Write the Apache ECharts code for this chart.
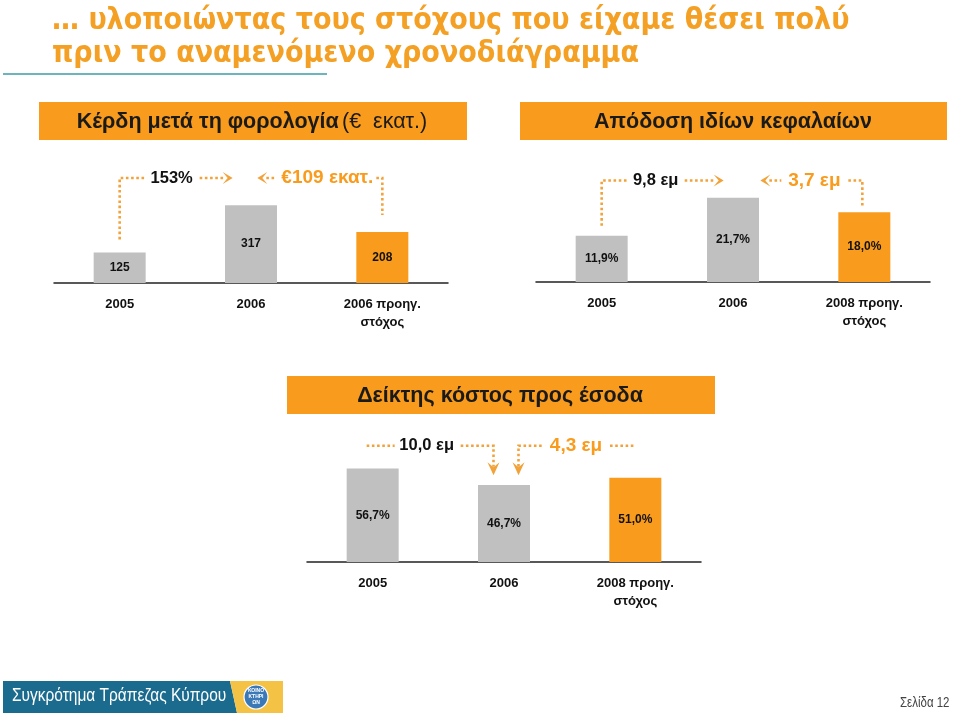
<!DOCTYPE html>
<html>
<head>
<meta charset="utf-8">
<script src="https://cdn.jsdelivr.net/npm/echarts@6/dist/echarts.min.js"></script>
<style>
html,body{margin:0;padding:0;background:#fff;}
#main{width:960px;height:715px;}
</style>
</head>
<body>
<div id="main"></div>
<script>
// ---- data ----
const titleLines = ['… υλοποιώντας τους στόχους που είχαμε θέσει πολύ', 'πριν το αναμενόμενο χρονοδιάγραμμα'];
const profitTitle = ['Κέρδη μετά τη φορολογία', '(€  εκατ.)'];
const profitCats = ['2005', '2006', '2006 προηγ.\nστόχος'];
const profitValues = [125, 317, 208];
const profitNotes = ['153%', '€109 εκατ.'];

const roeTitle = 'Απόδοση ιδίων κεφαλαίων';
const roeCats = ['2005', '2006', '2008 προηγ.\nστόχος'];
const roeValues = [11.9, 21.7, 18.0];
const roeNotes = ['9,8 εμ', '3,7 εμ'];

const costTitle = 'Δείκτης κόστος προς έσοδα';
const costCats = ['2005', '2006', '2008 προηγ.\nστόχος'];
const costValues = [56.7, 46.7, 51.0];
const costNotes = ['10,0 εμ', '4,3 εμ'];

const footerText = 'Συγκρότημα Τράπεζας Κύπρου';
const pageText = 'Σελίδα 12';

// ---- styles ----
const ORANGE = '#F99B1C';
const DOT = '#F2A23A';
const GREY = '#C0C0C0';
const FONT = "'Liberation Sans', Arial, sans-serif";

const pct = v => v.toFixed(1).replace('.', ',') + '%';

function barSeries(idx, values, fmt) {
  return {
    type: 'bar', xAxisIndex: idx, yAxisIndex: idx, barWidth: 52,
    data: values.map((v, i) => ({value: v, itemStyle: {color: i === values.length - 1 ? ORANGE : GREY}})),
    label: {show: true, position: 'inside', color: '#111', fontFamily: FONT, fontWeight: 'bold', fontSize: 12,
      formatter: p => fmt(p.value)},
    silent: true, animation: false
  };
}
function xAx(idx, cats) {
  return {
    type: 'category', gridIndex: idx, data: cats,
    axisLine: {lineStyle: {color: '#222', width: 1.5}}, axisTick: {show: false},
    axisLabel: {color: '#111', fontFamily: FONT, fontWeight: 'bold', fontSize: 13, margin: 12, lineHeight: 18, interval: 0}
  };
}
function yAx(idx, max) {
  return {type: 'value', gridIndex: idx, min: 0, max: max, show: false, splitLine: {show: false}};
}

const chart = echarts.init(document.getElementById('main'), null, {renderer: 'canvas'});
const option = {
  backgroundColor: '#fff',
  animation: false,
  grid: [
    {left: 54, top: 185, width: 394, height: 98},
    {left: 536, top: 185, width: 394, height: 97},
    {left: 307, top: 463, width: 394, height: 99}
  ],
  xAxis: [xAx(0, profitCats), xAx(1, roeCats), xAx(2, costCats)],
  yAxis: [yAx(0, 400), yAx(1, 25), yAx(2, 60)],
  series: [
    barSeries(0, profitValues, v => String(v)),
    barSeries(1, roeValues, pct),
    barSeries(2, costValues, pct)
  ]
};
chart.setOption(option);

// ---- decorations positioned from the chart's own scales ----
function px(g, i, v) { return chart.convertToPixel({gridIndex: g}, [i, v]); }
const G = [];
function dotted(points) {
  G.push({type: 'polyline', shape: {points: points}, style: {stroke: DOT, lineWidth: 2.6, lineDash: [2.6, 2.6], fill: null}, silent: true});
}
function arrowR(tx, ty) { G.push({type: 'polygon', shape: {points: [[tx, ty], [tx - 10, ty - 6], [tx - 5, ty], [tx - 10, ty + 6]]}, style: {fill: DOT}}); }
function arrowL(tx, ty) { G.push({type: 'polygon', shape: {points: [[tx, ty], [tx + 10, ty - 6], [tx + 5, ty], [tx + 10, ty + 6]]}, style: {fill: DOT}}); }
function arrowD(tx, ty) { G.push({type: 'polygon', shape: {points: [[tx, ty], [tx - 6, ty - 13], [tx, ty - 8], [tx + 6, ty - 13]]}, style: {fill: DOT}}); }
function txt(x, y, s, color, size, align, weight, family, scaleX) {
  G.push({type: 'text', x: x, y: y, scaleX: scaleX || 1, style: {text: s, fill: color, font: (weight || 'bold') + ' ' + size + 'px ' + (family || FONT), align: align || 'center', verticalAlign: 'middle'}});
}

// title
const TF = "'DejaVu Sans Condensed', 'DejaVu Sans', sans-serif";
txt(52, 21, titleLines[0], '#F4A024', 30, 'left', 'bold', TF);
txt(52, 54, titleLines[1], '#F4A024', 30, 'left', 'bold', TF);
G.push({type: 'line', shape: {x1: 3, y1: 74, x2: 327, y2: 74}, style: {stroke: '#3C9DA6', lineWidth: 1.5}});

// banners
G.push({type: 'rect', shape: {x: 39, y: 102, width: 428, height: 38}, style: {fill: ORANGE}});
G.push({type: 'rect', shape: {x: 520, y: 102, width: 427, height: 38}, style: {fill: ORANGE}});
G.push({type: 'rect', shape: {x: 287, y: 376, width: 428, height: 38}, style: {fill: ORANGE}});
G.push({type: 'text', x: 252, y: 122, style: {
  text: '{b|' + profitTitle[0] + '} {r|' + profitTitle[1] + '}', align: 'center', verticalAlign: 'middle',
  rich: {b: {font: 'bold 21.5px ' + FONT, fill: '#1a1a1a'}, r: {font: '21.5px ' + FONT, fill: '#1a1a1a'}}}});
txt(733, 122, roeTitle, '#1a1a1a', 21.5);
txt(500, 396, costTitle, '#1a1a1a', 21.5);

// chart 1 annotation
(function () {
  const L = 178;
  const a = px(0, 0, profitValues[0]), c = px(0, 2, profitValues[2]);
  const c0 = a[0], c2 = c[0];
  dotted([[c0, a[1] - 13], [c0, L], [c0 + 27, L]]);
  txt(c0 + 52, L, profitNotes[0], '#111', 16.5);
  dotted([[c0 + 80, L], [c0 + 104, L]]);
  arrowR(c0 + 113, L);
  arrowL(c2 - 125, L);
  dotted([[c2 - 116, L], [c2 - 106, L]]);
  txt(c2 - 55, L, profitNotes[1], ORANGE, 19);
  dotted([[c2 - 6, L], [c2, L], [c2, c[1] - 17]]);
})();

// chart 2 annotation
(function () {
  const L = 180.5;
  const a = px(1, 0, roeValues[0]), c = px(1, 2, roeValues[2]);
  const c0 = a[0], c2 = c[0];
  dotted([[c0, a[1] - 10], [c0, L], [c0 + 27, L]]);
  txt(c0 + 54, L, roeNotes[0], '#111', 16.5);
  dotted([[c0 + 83, L], [c0 + 113, L]]);
  arrowR(c0 + 122, L);
  arrowL(c2 - 104, L);
  dotted([[c2 - 95, L], [c2 - 83, L]]);
  txt(c2 - 50, L, roeNotes[1], ORANGE, 19);
  dotted([[c2 - 16, L], [c2 - 2, L], [c2 - 2, c[1] - 5]]);
})();

// chart 3 annotation
(function () {
  const L = 445.7;
  const c0 = px(2, 0, 0)[0], c1 = px(2, 1, 0)[0];
  dotted([[c0 - 6, L], [c0 + 22, L]]);
  txt(c0 + 54, L, costNotes[0], '#111', 16.5);
  dotted([[c0 + 88, L], [c1 - 10.5, L], [c1 - 10.5, L + 21]]);
  arrowD(c1 - 10.5, L + 29.5);
  dotted([[c1 + 14.5, L + 21], [c1 + 14.5, L], [c1 + 38, L]]);
  arrowD(c1 + 14.5, L + 29.5);
  txt(c1 + 72, L, costNotes[1], ORANGE, 19);
  dotted([[c1 + 106, L], [c1 + 130, L]]);
})();

// footer
G.push({type: 'polygon', shape: {points: [[3, 681], [230, 681], [237, 713], [3, 713]]}, style: {fill: '#1B6B8F'}});
G.push({type: 'polygon', shape: {points: [[230, 681], [283, 681], [283, 713], [237, 713]]}, style: {fill: '#F4C245'}});
G.push({type: 'circle', shape: {cx: 256, cy: 697, r: 12}, style: {fill: '#3B78B8', stroke: '#fff', lineWidth: 1.2}});
G.push({type: 'text', x: 256, y: 697, style: {text: 'ΚΟΙΝΟ\nΚΤΗΡΙ\nΩΝ', fill: '#fff', font: 'bold 5px ' + FONT, align: 'center', verticalAlign: 'middle', lineHeight: 6}});
txt(12, 696, footerText, '#fff', 18, 'left', 'normal', FONT, 0.86);
txt(900, 703, pageText, '#444', 14, 'left', 'normal', FONT, 0.82);

chart.setOption({graphic: {elements: G}});
</script>
</body>
</html>
